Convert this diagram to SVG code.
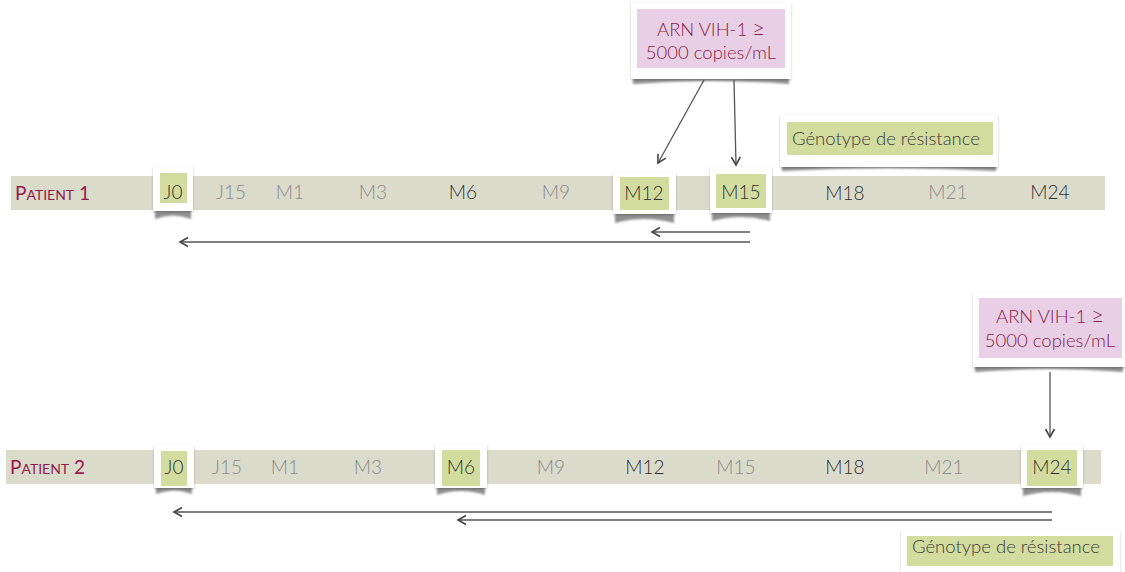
<svg xmlns="http://www.w3.org/2000/svg" width="1125" height="572" viewBox="0 0 1125 572">
<style>
.bar{fill:#dadbcb}
.card{fill:#fff;filter:url(#ds)}
.curl{fill:#8f8f8f;filter:url(#blur)}
.green{fill:#d3dc9f}
.pink{fill:#e8cfe5}
.lbl{font-family:Lato,"Open Sans",sans-serif;font-weight:300;font-size:19px;text-anchor:middle}
.dk{fill:#2e2e2e}
.lt{fill:#8a8a8a}
.pt{font-family:Lato,"Open Sans",sans-serif;fill:#96184a}
.ptxt{font-family:Lato,"Open Sans",sans-serif;font-weight:300;font-size:18.5px;fill:#8a1a48;text-anchor:middle}
.gtxt{font-family:Lato,"Open Sans",sans-serif;font-weight:300;font-size:18.5px;fill:#3a3a3a}
.arr{stroke:#555;stroke-width:1.3;fill:none;marker-end:url(#ah)}
</style>
<defs>
<filter id="ds" x="-20%" y="-20%" width="140%" height="140%">
<feDropShadow dx="0" dy="1" stdDeviation="1.2" flood-color="#000" flood-opacity="0.25"/>
</filter>
<filter id="blur" x="-10%" y="-50%" width="120%" height="200%">
<feGaussianBlur stdDeviation="1.2"/>
</filter>
<marker id="ah" markerWidth="12" markerHeight="12" refX="9" refY="6" orient="auto" markerUnits="userSpaceOnUse">
<path d="M1,1.5 L9,6 L1,10.5" fill="none" stroke="#444" stroke-width="1.6"/>
</marker>
</defs>

<!-- Patient 1 -->
<g id="patient1-bar">
<rect class="bar" x="11" y="176" width="1094" height="34"/>
<text class="pt" x="15" y="200"><tspan font-size="19">P</tspan><tspan font-size="14">ATIENT</tspan><tspan font-size="19"> 1</tspan></text>
</g>

<g id="p1-J0">
<path class="curl" d="M155,208 L191,208 L191,219 Q173,212 155,219 Z"/>
<rect class="card" x="153" y="167" width="40" height="44"/>
<rect class="green" x="160" y="173" width="27" height="30"/>
<text class="lbl dk" x="173" y="199">J0</text>
</g>
<g id="p1-J15"><text class="lbl lt" x="231" y="199">J15</text></g>
<g id="p1-M1"><text class="lbl lt" x="290" y="199">M1</text></g>
<g id="p1-M3"><text class="lbl lt" x="373" y="199">M3</text></g>
<g id="p1-M6"><text class="lbl dk" x="463" y="199">M6</text></g>
<g id="p1-M9"><text class="lbl lt" x="556" y="199">M9</text></g>
<g id="p1-M12">
<path class="curl" d="M615,212 L674,212 L674,223 Q644,215 615,223 Z"/>
<rect class="card" x="613" y="172" width="63" height="42"/>
<rect class="green" x="620" y="177" width="49" height="33"/>
<text class="lbl dk" x="644" y="200">M12</text>
</g>
<g id="p1-M15">
<path class="curl" d="M712,210 L770,210 L770,221 Q741,213 712,221 Z"/>
<rect class="card" x="710" y="167" width="62" height="46"/>
<rect class="green" x="716" y="174" width="50" height="34"/>
<text class="lbl dk" x="741" y="199">M15</text>
</g>
<g id="p1-M18"><text class="lbl dk" x="845" y="200">M18</text></g>
<g id="p1-M21"><text class="lbl lt" x="948" y="199">M21</text></g>
<g id="p1-M24"><text class="lbl dk" x="1050" y="199">M24</text></g>

<g id="p1-arn">
<path class="curl" d="M633,76 L789,76 L789,84 Q711,78 633,84 Z"/>
<rect class="card" x="631" y="3" width="160" height="76"/>
<rect class="pink" x="637" y="9" width="148" height="59"/>
<text class="ptxt" x="711" y="36">ARN VIH-1 <tspan font-size="22">≥</tspan></text>
<text class="ptxt" x="711" y="59">5000 copies/mL</text>
</g>

<g id="p1-geno">
<path class="curl" d="M782,163 L996,163 L996,171 Q889,165 782,171 Z"/>
<rect class="card" x="780" y="115" width="218" height="52"/>
<rect class="green" x="787" y="122" width="206" height="33"/>
<text class="gtxt" x="792" y="145">Génotype de résistance</text>
</g>

<!-- Patient 2 -->
<g id="patient2-bar">
<rect class="bar" x="6" y="450" width="1095" height="34"/>
<text class="pt" x="10" y="474"><tspan font-size="19">P</tspan><tspan font-size="14">ATIENT</tspan><tspan font-size="19"> 2</tspan></text>
</g>

<g id="p2-J0">
<path class="curl" d="M156,484 L192,484 L192,494 Q174,487 156,494 Z"/>
<rect class="card" x="154" y="445" width="40" height="43"/>
<rect class="green" x="161" y="451" width="26" height="35"/>
<text class="lbl dk" x="174" y="474">J0</text>
</g>
<g id="p2-J15"><text class="lbl lt" x="227" y="474">J15</text></g>
<g id="p2-M1"><text class="lbl lt" x="285" y="474">M1</text></g>
<g id="p2-M3"><text class="lbl lt" x="368" y="474">M3</text></g>
<g id="p2-M6">
<path class="curl" d="M437,484 L485,484 L485,495 Q461,487 437,495 Z"/>
<rect class="card" x="435" y="444" width="52" height="44"/>
<rect class="green" x="442" y="450" width="38" height="36"/>
<text class="lbl dk" x="461" y="474">M6</text>
</g>
<g id="p2-M9"><text class="lbl lt" x="551" y="474">M9</text></g>
<g id="p2-M12"><text class="lbl dk" x="645" y="474">M12</text></g>
<g id="p2-M15"><text class="lbl lt" x="736" y="474">M15</text></g>
<g id="p2-M18"><text class="lbl dk" x="845" y="474">M18</text></g>
<g id="p2-M21"><text class="lbl lt" x="944" y="474">M21</text></g>
<g id="p2-M24">
<path class="curl" d="M1023,484 L1081,484 L1081,496 Q1052,488 1023,496 Z"/>
<rect class="card" x="1021" y="444" width="62" height="44"/>
<rect class="green" x="1027" y="450" width="50" height="36"/>
<text class="lbl dk" x="1052" y="474">M24</text>
</g>

<g id="p2-arn">
<path class="curl" d="M975,364 L1123,364 L1123,372 Q1049,366 975,372 Z"/>
<rect class="card" x="973" y="293" width="152" height="74"/>
<rect class="pink" x="979" y="298" width="143" height="60"/>
<text class="ptxt" x="1050" y="323">ARN VIH-1 <tspan font-size="22">≥</tspan></text>
<text class="ptxt" x="1050" y="347">5000 copies/mL</text>
</g>

<g id="p2-geno">
<rect class="card" x="901" y="530" width="219" height="50"/>
<rect class="green" x="907" y="536" width="206" height="30"/>
<text class="gtxt" x="912" y="553">Génotype de résistance</text>
</g>

<g id="connectors">
<line class="arr" x1="704" y1="80" x2="658" y2="163"/>
<line class="arr" x1="734" y1="80" x2="736" y2="165"/>
<line class="arr" x1="750" y1="232" x2="652" y2="232"/>
<line class="arr" x1="750" y1="242" x2="180" y2="242"/>
<line class="arr" x1="1050" y1="372" x2="1050" y2="437"/>
<line class="arr" x1="1052" y1="512" x2="174" y2="512"/>
<line class="arr" x1="1052" y1="520" x2="458" y2="520"/>
</g>
</svg>
